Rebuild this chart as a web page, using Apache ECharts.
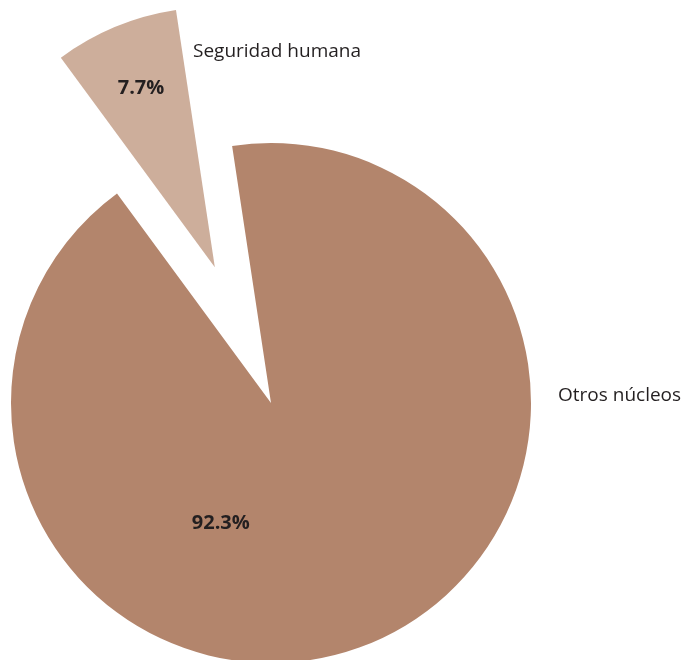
<!DOCTYPE html>
<html>
<head>
<meta charset="utf-8">
<script src="https://cdn.jsdelivr.net/npm/echarts@6/dist/echarts.min.js"></script>
<style>
  html, body { margin: 0; padding: 0; background: #fff; }
  #pie_con { width: 685px; height: 660px; }
</style>
</head>
<body>
<div id="pie_con"></div>
<script>
const names = ['Otros núcleos', 'Seguridad humana'];
const values = [92.3, 7.7];
const colors = ['#b3856c', '#cdae9b'];

const cx = 271, cy = 403, r = 260;
const font = '"Open Sans", "Noto Sans", sans-serif';

const pieData = names.map((name, i) => {
    return {
        name: name,
        value: values[i],
        selected: i === 1,
        itemStyle: { color: colors[i] }
    };
});

const option = {
    animation: false,
    series: [
        {
            type: 'pie',
            center: [cx, cy],
            radius: r,
            startAngle: 98.6,
            clockwise: true,
            selectedMode: 'single',
            selectedOffset: 147,
            silent: true,
            data: pieData,
            label: {
                show: true,
                position: 'inside',
                formatter: p => p.value.toFixed(1) + '%',
                fontFamily: font,
                fontWeight: 'bold',
                fontSize: 20,
                color: '#231f20'
            },
            labelLine: { show: false },
            labelLayout: function (params) {
                if (params.dataIndex === 0) {
                    return { dx: -101, dy: -3 };
                }
                return { dx: -23, dy: -56 };
            }
        },
        {
            type: 'pie',
            center: [cx, cy],
            radius: r,
            startAngle: 98.6,
            silent: true,
            data: names.map((name, i) => ({ name: name, value: values[i] })),
            itemStyle: { color: 'rgba(0,0,0,0)' },
            label: {
                show: true,
                position: 'outside',
                formatter: '{b}',
                overflow: 'none',
                fontFamily: font,
                fontSize: 19,
                color: '#231f20'
            },
            labelLine: { show: false },
            labelLayout: function (params) {
                if (params.dataIndex === 0) {
                    return { x: cx + r + 27, y: cy - 7, align: 'left', verticalAlign: 'middle' };
                }
                return { x: 193, y: 52, align: 'left', verticalAlign: 'middle' };
            }
        }
    ]
};

const pieChart = echarts.init(document.getElementById('pie_con'));
pieChart.setOption(option);

window.addEventListener('resize', function () {
    pieChart.resize();
});
</script>
</body>
</html>
